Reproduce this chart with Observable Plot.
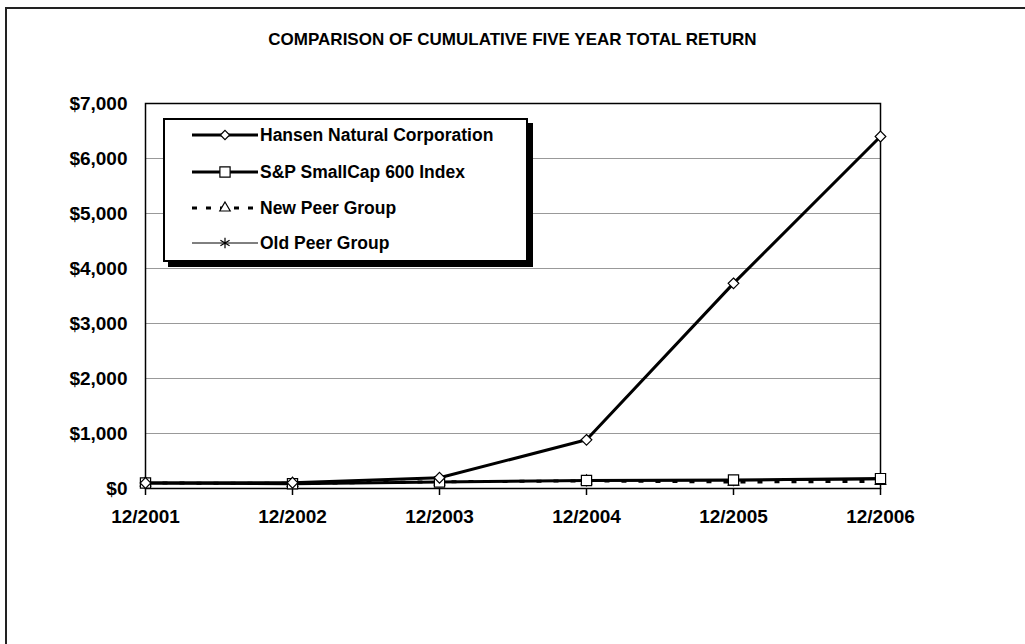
<!DOCTYPE html>
<html><head><meta charset="utf-8">
<script src="https://cdn.jsdelivr.net/npm/d3@7"></script>
<script src="https://cdn.jsdelivr.net/npm/@observablehq/plot@0.6"></script>
<style>
html,body{margin:0;padding:0;background:#fff;}
#wrap{position:relative;width:1025px;height:644px;overflow:hidden;font-family:"Liberation Sans",Arial,sans-serif;color:#000;}
#border{position:absolute;left:5px;top:7px;width:1040px;height:660px;border-top:2px solid #222;border-left:2px solid #222;}
#title{position:absolute;left:0;top:31px;width:1025px;text-align:center;font-weight:bold;font-size:17px;line-height:18px;}
#chart{position:absolute;left:0;top:0;}
#legend{position:absolute;left:163px;top:118px;width:361px;height:140px;border:2px solid #000;background:#fff;box-shadow:5px 5px 0 #000;}
.sw{position:absolute;left:27px;width:68px;height:20px;}
.lt{position:absolute;left:95px;font-weight:bold;font-size:17.5px;line-height:20px;white-space:nowrap;}
</style>
</head><body>
<div id="wrap">
  <div id="border"></div>
  <div id="chart"></div>
  <div id="title">COMPARISON OF CUMULATIVE FIVE YEAR TOTAL RETURN</div>
  <div id="legend"></div>
</div>
<script>
const periods = ["12/2001","12/2002","12/2003","12/2004","12/2005","12/2006"];
const seriesNames = ["Hansen Natural Corporation","S&P SmallCap 600 Index","New Peer Group","Old Peer Group"];
const hansen  = [100, 105, 195, 885, 3730, 6400];
const sp600   = [100, 85, 118, 145, 156, 180];
const newPeer = [100, 93, 122, 138, 118, 130];
const oldPeer = [100, 90, 118, 133, 138, 158];
const yTicks = [0,1000,2000,3000,4000,5000,6000,7000];

const seriesValues = [hansen, sp600, newPeer, oldPeer];
const rows = seriesNames.flatMap((name,i)=>periods.map((p,j)=>({series:name, period:p, value:seriesValues[i][j]})));

const look = {
  "Hansen Natural Corporation": {sw:3, dash:null, symbol:"diamond2", d3sym:d3.symbolDiamond2, r:4.8},
  "S&P SmallCap 600 Index":     {sw:3, dash:null, symbol:"square2", d3sym:d3.symbolSquare2, r:6.5},
  "New Peer Group":             {sw:3, dash:"5,12", symbol:"triangle2", d3sym:d3.symbolTriangle2, r:5},
  "Old Peer Group":             {sw:1, dash:null, symbol:"asterisk", d3sym:d3.symbolAsterisk, r:5}
};
const drawOrder = [...seriesNames].reverse();

const lineMarks = drawOrder.map(name => Plot.line(rows.filter(d=>d.series===name), {
  x:"period", y:"value", stroke:"#000", strokeWidth:look[name].sw,
  strokeDasharray:look[name].dash || undefined, strokeLinecap:"butt", strokeLinejoin:"round"
}));
const dotMarks = drawOrder.map(name => Plot.dot(rows.filter(d=>d.series===name), {
  x:"period", y:"value", symbol:()=>look[name].symbol, r:look[name].r,
  fill:"#fff", stroke:"#000", strokeWidth:1.2
}));

const chart = Plot.plot({
  width:1025, height:644,
  marginLeft:145, marginRight:145, marginTop:103, marginBottom:156,
  x:{type:"point", domain:periods, padding:0, label:null},
  y:{domain:[0,7000], label:null},
  symbol:{type:"identity"},
  style:{fontFamily:"'Liberation Sans', Arial, sans-serif", fontSize:"19px", fontWeight:"bold", color:"#000", background:"transparent", overflow:"visible"},
  marks:[
    Plot.gridY(yTicks.filter(t=>t>0 && t<7000), {stroke:"#999", strokeOpacity:1, strokeWidth:1}),
    Plot.axisY(yTicks, {tickSize:0, tickPadding:18, tickFormat:d=>"$"+d3.format(",")(d), label:null, fill:"#000"}),
    Plot.axisX(periods, {tickSize:7, tickPadding:14, label:null, stroke:"#000", strokeWidth:1.5, fill:"#000"}),
    Plot.frame({stroke:"#000", strokeWidth:1.5}),
    ...lineMarks,
    ...dotMarks
  ]
});
document.getElementById("chart").appendChild(chart);

// legend
const legend = document.getElementById("legend");
const rowCenters = [15, 52, 88, 123];
const legendSizes = {"Hansen Natural Corporation":4.2, "S&P SmallCap 600 Index":6.5, "New Peer Group":5, "Old Peer Group":5};
seriesNames.forEach((name,i)=>{
  const L = look[name];
  const svg = d3.create("svg").attr("class","sw").attr("width",68).attr("height",20)
    .style("top",(rowCenters[i]-10)+"px");
  svg.append("line").attr("x1",0).attr("x2",66).attr("y1",10).attr("y2",10)
    .attr("stroke","#000").attr("stroke-width",L.sw)
    .attr("stroke-dasharray",L.dash ? "5,9" : null);
  const r = legendSizes[name];
  svg.append("path").attr("transform","translate(33,10)")
    .attr("d", d3.symbol(L.d3sym, r*r*Math.PI)())
    .attr("fill","#fff").attr("stroke","#000").attr("stroke-width",1.2);
  legend.appendChild(svg.node());
  const t = document.createElement("div");
  t.className = "lt";
  t.style.top = (rowCenters[i]-10)+"px";
  t.textContent = name;
  legend.appendChild(t);
});
</script>
</body></html>
